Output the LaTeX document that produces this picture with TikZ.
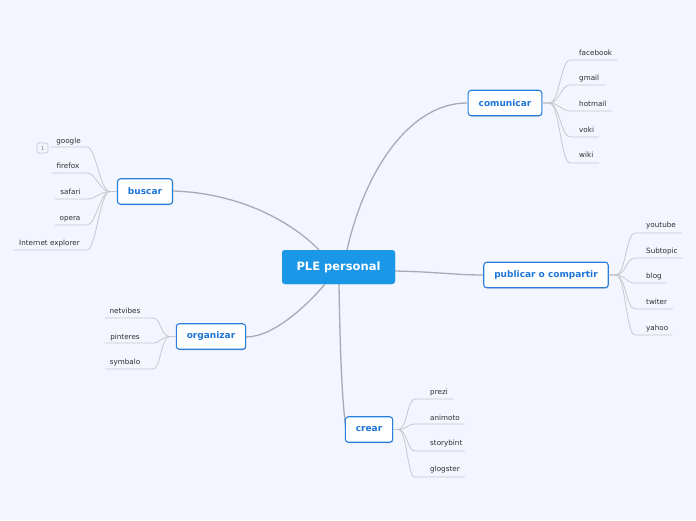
\documentclass[tikz,border=0pt]{standalone}
\usepackage{fontspec}
\setmainfont{DejaVu Sans}
\usetikzlibrary{shadows}
\definecolor{bg}{HTML}{F3F6FE}
\definecolor{central}{HTML}{1B97E8}
\definecolor{topicblue}{HTML}{2A7FDC}
\definecolor{topictext}{HTML}{1E75D8}
\definecolor{mainline}{HTML}{A9ABB2}
\definecolor{subline}{HTML}{C6C8CE}
\definecolor{subtext}{HTML}{2E2E2E}
\tikzset{
  centralbox/.style={fill=central, rounded corners=3pt, minimum width=113pt, minimum height=34pt,
    text=white, font=\fontsize{11.5}{13}\selectfont\bfseries, inner sep=0pt},
  topicbox/.style={draw=topicblue, line width=1.1pt, fill=white, rounded corners=3pt,
    minimum height=25.5pt, inner xsep=10.5pt, inner ysep=0pt, text=topictext,
    font=\fontsize{9}{10}\selectfont\bfseries,
    drop shadow={opacity=0.22, shadow xshift=0.8pt, shadow yshift=-1pt}},
  subtopic/.style={font=\fontsize{7.2}{8}\selectfont, text=subtext, inner sep=0pt},
  mainconn/.style={draw=mainline, line width=1.3pt},
  subconn/.style={draw=subline, line width=0.8pt},
  badge/.style={draw=subline, line width=0.7pt, rounded corners=2pt, minimum width=11pt,
    minimum height=10pt, inner sep=0pt, text=gray, font=\fontsize{5.5}{6}\selectfont}
}
\begin{document}
\begin{tikzpicture}[x=1pt,y=-1pt]
\fill[bg] (0,0) rectangle (696,520);
\useasboundingbox (0,0) rectangle (696,520);

% nodes
\node[centralbox] (ple) at (338.5,267) {PLE personal};
\coordinate (pleT) at (347,250);
\coordinate (pleTL) at (319,250);
\coordinate (pleB) at (339,284);
\coordinate (pleBL) at (325,284);

% main connectors (drawn first)
\path[mainconn] (pleT) .. controls (365,170) and (410,103) .. (467,103);
\path[mainconn] (pleTL) .. controls (292,222) and (240,193) .. (173,191);
\path[mainconn] (395,271) .. controls (440,272) and (455,275) .. (483,275);
\path[mainconn] (pleBL) .. controls (310,302) and (275,337) .. (246,337);
\path[mainconn] (pleB) .. controls (340,350) and (342,400) .. (346,430);

\node[topicbox] (com) at (505,103) {comunicar};
\node[topicbox] (bus) at (145,191.5) {buscar};
\node[topicbox] (pub) at (546,275) {publicar o compartir};
\node[topicbox] (org) at (211,336.5) {organizar};
\node[topicbox] (cre) at (369,429.5) {crear};
\node[centralbox] at (ple) {PLE personal};

% comunicar subtopics
\node[subtopic, anchor=base west] (fb) at (579,55) {facebook};
\node[subtopic, anchor=base west] (gm) at (579,80) {gmail};
\node[subtopic, anchor=base west] (hm) at (579,106) {hotmail};
\node[subtopic, anchor=base west] (vk) at (579,132) {voki};
\node[subtopic, anchor=base west] (wk) at (579,157) {wiki};
\foreach \n/\y/\e in {fb/60/617, gm/85/605, hm/111/612, vk/137/599, wk/163/599}{
  \path[subconn] (com.east) -- ++(7,0) .. controls +(10,0) and +(-9,0) .. (570,\y) -- (\e,\y);
}

% buscar subtopics
\node[subtopic, anchor=base] (go) at (68.5,143) {google};
\node[subtopic, anchor=base] (ff) at (68,168) {firefox};
\node[subtopic, anchor=base] (sf) at (70.5,194) {safari};
\node[subtopic, anchor=base] (op) at (70,220) {opera};
\node[subtopic, anchor=base] (ie) at (49.5,245) {Internet explorer};
\foreach \n/\y/\s in {go/147/50, ff/173/52, sf/199/55, op/225/55, ie/250/13}{
  \path[subconn] (bus.west) -- ++(-7,0) .. controls +(-10,0) and +(9,0) .. (87,\y) -- (\s,\y);
}
\node[badge] (bd) at (42.5,148) {1};

% publicar subtopics
\node[subtopic, anchor=base west] (yt) at (646,227) {youtube};
\node[subtopic, anchor=base west] (st) at (646,253) {Subtopic};
\node[subtopic, anchor=base west] (bl) at (646,278) {blog};
\node[subtopic, anchor=base west] (tw) at (646,304) {twiter};
\node[subtopic, anchor=base west] (ya) at (646,330) {yahoo};
\foreach \n/\y/\e in {yt/233/682, st/258/683, bl/283/667, tw/309/673, ya/335/672}{
  \path[subconn] (pub.east) -- ++(7,0) .. controls +(10,0) and +(-9,0) .. (635,\y) -- (\e,\y);
}

% organizar subtopics
\node[subtopic, anchor=base] (nv) at (125,313) {netvibes};
\node[subtopic, anchor=base] (pi) at (125,339) {pinteres};
\node[subtopic, anchor=base] (sy) at (125,364) {symbalo};
\foreach \n/\y in {nv/318, pi/343, sy/369}{
  \path[subconn] (org.west) -- ++(-6,0) .. controls +(-9,0) and +(8,0) .. (153,\y) -- (105,\y);
}

% crear subtopics
\node[subtopic, anchor=base west] (pz) at (430,394) {prezi};
\node[subtopic, anchor=base west] (an) at (430,420) {animoto};
\node[subtopic, anchor=base west] (sb) at (430,445) {storybint};
\node[subtopic, anchor=base west] (gl) at (430,471) {glogster};
\foreach \n/\y/\e in {pz/399/453, an/424/465, sb/451/465, gl/477/465}{
  \path[subconn] (cre.east) -- ++(5,0) .. controls +(9,0) and +(-8,0) .. (415,\y) -- (\e,\y);
}
\end{tikzpicture}
\end{document}
